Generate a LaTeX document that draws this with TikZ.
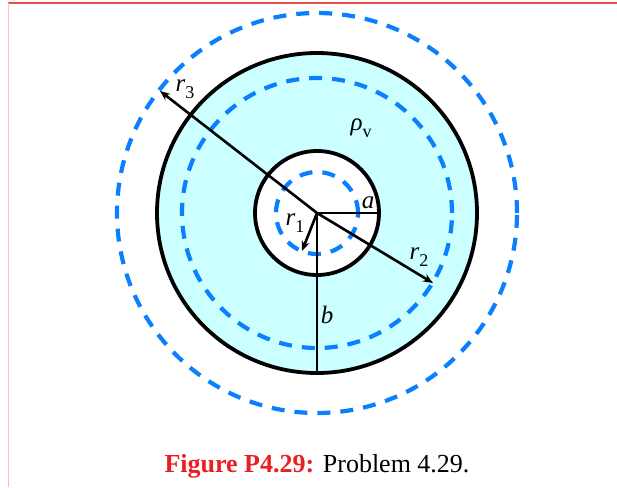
\documentclass[tikz,border=0pt]{standalone}
\usepackage{fontspec}
\setmainfont{Liberation Serif}
\usetikzlibrary{arrows.meta}
\definecolor{fillcyan}{RGB}{204,255,255}
\definecolor{dashblue}{RGB}{10,128,255}
\definecolor{framered}{RGB}{230,80,80}
\definecolor{framepink}{RGB}{255,190,190}
\definecolor{capred}{RGB}{235,30,35}
\newcommand{\mysub}[1]{\raisebox{-0.28em}{\fontsize{18}{20}\selectfont #1}}
\tikzset{
  solidring/.style={draw=black, line width=3.8pt},
  dashring/.style={draw=dashblue, line width=4.2pt, dash pattern=on 13pt off 10pt},
  radius line/.style={draw=black, line width=2.6pt},
  radius arrow/.style={draw=black, line width=2.6pt, -{Stealth[length=10pt,width=8pt]}},
  lab/.style={font=\fontsize{25}{27}\selectfont, inner sep=0pt}
}
\begin{document}
\begin{tikzpicture}[x=1pt,y=-1pt]
\useasboundingbox (0,0) rectangle (617,487);
% frame
\draw[framered, line width=1.5pt] (8,3) -- (617,3);
\draw[framepink, line width=1pt] (8,3) -- (8,487);
% center
\coordinate (O) at (317,213);
% filled annulus
\fill[fillcyan, even odd rule] (O) circle[radius=160pt] (O) circle[radius=62pt];
% dashed circles
\draw[dashring] (O) circle[radius=200pt];
\draw[dashring] (O) circle[radius=135pt];
\draw[dashring] (O) circle[radius=41pt];
% solid circles
\draw[solidring] (O) circle[radius=160pt];
\draw[solidring] (O) circle[radius=62pt];
% radii
\coordinate (A) at (379,213);
\coordinate (B) at (317,373);
\coordinate (R1) at (302,251);
\coordinate (R2) at (433,283);
\coordinate (R3) at (160,91);
\draw[radius line] (O) -- (A);
\draw[radius line] (O) -- (B);
\draw[radius arrow] (O) -- (R1);
\draw[radius arrow] (O) -- (R2);
\draw[radius arrow] (O) -- (R3);
% labels
\node[lab] (la) at (368,203) {\textit{a}};
\node[lab] (lb) at (327,315) {\textit{b}};
\node[lab] (lr1) at (295,223) {\textit{r}\mysub{1}};
\node[lab] (lr2) at (419,257) {\textit{r}\mysub{2}};
\node[lab] (lr3) at (185,89) {\textit{r}\mysub{3}};
\node[lab] (lrho) at (361,128) {\textit{ρ}\mysub{v}};
% caption
\node[font=\fontsize{26}{28}\selectfont, inner sep=0pt] (cap) at (317,466)
  {\textcolor{capred}{\textbf{Figure P4.29:}} Problem 4.29.};
\end{tikzpicture}
\end{document}
